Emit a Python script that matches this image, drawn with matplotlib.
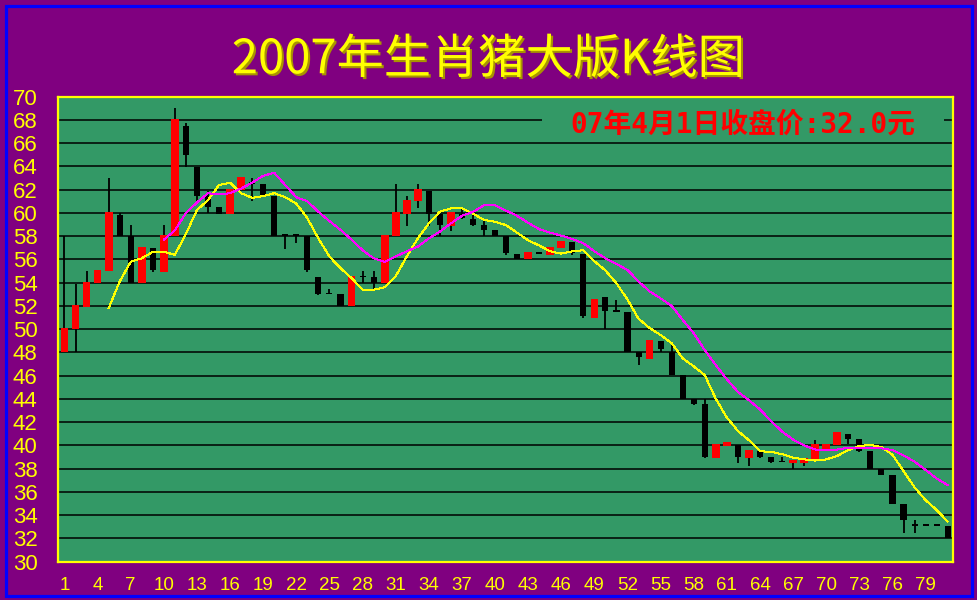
import matplotlib
matplotlib.use("Agg")
import matplotlib.pyplot as plt
import matplotlib.patheffects as pe
from matplotlib.patches import Rectangle
import numpy as np

# daily candles, day 1..81
day = np.arange(1, 82)
open_ = [48.0, 50.0, 51.95, 53.95, 55.0, 59.85, 58.0, 53.95, 56.95, 54.95,
         58.0, 67.5, 63.95, 61.5, 60.5, 59.95, 61.95, 62.55, 62.5, 61.5,
         58.05, 58.05, 58.0, 54.5, 53.05, 53.05, 52.0, 54.5, 54.5, 53.95,
         58.0, 59.95, 61.0, 61.9, 59.95, 58.9, 59.95, 59.5, 58.95, 58.55,
         58.0, 56.5, 56.0, 56.6, 56.4, 56.95, 57.5, 56.5, 51.0, 52.75,
         51.55, 51.5, 48.0, 47.45, 49.0, 48.0, 46.05, 44.0, 43.55, 38.9,
         39.95, 40.0, 38.9, 39.5, 39.0, 38.6, 38.5, 38.5, 38.8, 39.5,
         40.0, 41.0, 40.55, 39.5, 38.0, 37.5, 35.0, 33.15, 33.15, 33.15,
         33.05]
high = [58.0, 53.9, 55.0, 55.1, 63.0, 60.0, 59.0, 57.1, 56.95, 59.0,
        69.0, 67.75, 63.95, 61.85, 60.5, 62.05, 63.1, 63.0, 62.5, 61.5,
        58.05, 58.05, 58.0, 54.5, 53.5, 53.05, 54.6, 55.0, 55.0, 58.1,
        62.5, 61.45, 62.5, 61.9, 59.95, 60.05, 60.5, 59.95, 59.5, 58.55,
        58.0, 56.5, 56.6, 56.6, 57.05, 57.6, 57.5, 56.5, 52.6, 52.75,
        52.55, 51.5, 48.0, 49.1, 49.0, 48.8, 46.05, 44.0, 44.0, 40.1,
        40.3, 40.0, 39.6, 39.5, 39.0, 39.0, 38.75, 38.9, 40.5, 40.1,
        41.15, 41.0, 40.55, 39.5, 38.0, 37.5, 35.0, 33.6, 33.25, 33.25,
        33.05]
low = [48.0, 48.0, 51.95, 53.95, 55.0, 58.0, 53.95, 53.95, 54.95, 54.95,
       58.0, 63.95, 61.0, 60.0, 59.95, 59.95, 61.95, 61.0, 61.5, 58.0,
       56.9, 57.45, 54.95, 52.95, 53.0, 52.0, 52.0, 53.95, 53.25, 53.95,
       58.0, 58.9, 60.45, 58.9, 58.0, 58.45, 59.45, 58.9, 58.0, 58.0,
       56.4, 56.05, 56.0, 56.5, 56.4, 56.95, 56.4, 50.95, 51.0, 50.0,
       51.5, 48.0, 46.95, 47.45, 48.0, 46.05, 44.0, 43.45, 38.9, 38.9,
       39.95, 38.45, 38.25, 38.9, 38.5, 38.55, 38.0, 38.25, 38.8, 39.5,
       40.0, 40.1, 39.45, 38.0, 37.45, 34.95, 32.5, 32.5, 33.1, 33.1,
       32.0]
close = [50.1, 52.1, 54.1, 55.1, 60.05, 58.0, 53.95, 57.1, 55.05, 58.1,
         68.1, 65.0, 61.5, 60.55, 59.95, 62.05, 63.1, 62.5, 61.5, 58.0,
         58.0, 58.0, 55.05, 53.05, 53.0, 52.0, 54.6, 54.45, 53.95, 58.1,
         60.05, 61.1, 62.05, 59.9, 59.0, 60.05, 59.6, 59.0, 58.55, 58.0,
         56.55, 56.05, 56.6, 56.5, 57.05, 57.6, 56.55, 51.1, 52.6, 51.55,
         51.5, 48.0, 47.6, 49.1, 48.3, 46.05, 44.0, 43.6, 39.0, 40.1,
         40.3, 39.0, 39.6, 39.0, 38.6, 38.55, 38.75, 38.9, 40.1, 40.1,
         41.15, 40.55, 39.55, 38.0, 37.5, 35.0, 33.6, 33.1, 33.1, 33.1,
         32.0]

# moving average lines as drawn (yellow from day 5, magenta from day 10)
ma5 = [51.8, 54.1, 55.8, 56.1, 56.65, 56.65, 56.4, 58.2, 60.25, 61.1,
       62.4, 62.6, 61.7, 61.3, 61.45, 61.7, 61.35, 60.8, 59.55, 57.8,
       56.25, 55.25, 54.4, 53.4, 53.4, 53.6, 54.55, 56.25, 57.8, 59.1,
       60.1, 60.4, 60.4, 59.95, 59.4, 59.25, 58.95, 58.3, 57.65, 57.2,
       56.7, 56.5, 56.7, 56.8, 55.85, 55.05, 53.95, 52.55, 50.9, 50.1,
       49.5, 48.8, 47.5, 46.8, 46.05, 44.0, 42.4, 41.25, 40.45, 39.5,
       39.45, 39.25, 38.95, 38.8, 38.7, 38.8, 39.1, 39.6, 39.95, 40.05,
       39.85, 39.2, 37.8, 36.4, 35.3, 34.45, 33.45]
ma10 = [57.7, 58.5, 60.0, 60.9, 61.7, 61.6, 61.7, 62.1, 62.6, 63.2,
        63.45, 62.4, 61.35, 61.0, 60.1, 59.3, 58.55, 57.7, 56.8, 56.1,
        55.8, 56.25, 56.7, 57.1, 57.8, 58.4, 59.1, 59.75, 60.1, 60.65,
        60.65, 60.2, 59.75, 59.15, 58.6, 58.3, 58.05, 57.75, 57.4, 56.7,
        56.1, 55.6, 55.1, 54.1, 53.25, 52.65, 52.0, 50.8, 49.65, 48.2,
        46.9, 45.7, 44.6, 43.9, 43.1, 42.1, 41.2, 40.5, 40.0, 39.65,
        39.6, 39.65, 39.8, 39.8, 39.8, 39.75, 39.6, 39.15, 38.6, 37.9,
        37.15, 36.6]

y_ticks = list(range(30, 71, 2))
x_ticks = list(range(1, 80, 3))
title = "2007年生肖猪大版K线图"
note = "07年4月1日收盘价:32.0元"

PURPLE = "#800080"
GREEN = "#339966"

fig = plt.figure(figsize=(9.77, 6.0), dpi=100, facecolor=PURPLE)
fig.patches.append(Rectangle((5.5 / 977, 4.5 / 600), 966 / 977, 590 / 600,
                             transform=fig.transFigure, fill=False,
                             edgecolor="#0000FF", lw=2.3))

ax = fig.add_axes([58.3 / 977, 38.3 / 600, 895 / 977, 465 / 600])
ax.set_facecolor(GREEN)
ax.set_xlim(0.44, 81.51)
ax.set_ylim(30, 70)

for v in y_ticks[1:-1]:
    ax.axhline(v, color="black", lw=1.1, zorder=1)

o = np.array(open_)
c = np.array(close)
up = c > o
bottom = np.minimum(o, c)
height = np.maximum(np.abs(c - o), 0.15)

ax.vlines(day, low, high, color="black", lw=1.3, zorder=2)
ax.bar(day[up], height[up], bottom=bottom[up], width=0.7,
       color="#FF0000", lw=0, zorder=3)
ax.bar(day[~up], height[~up], bottom=bottom[~up], width=0.55,
       color="black", lw=0, zorder=3)

ax.plot(day[4:], ma5, color="#FFFF00", lw=0.72, zorder=4, antialiased=False)
ax.plot(day[9:], ma10, color="#FF00FF", lw=0.72, zorder=4, antialiased=False)

for s in ax.spines.values():
    s.set_color("#FFFF00")
    s.set_linewidth(1.6)

ax.set_yticks(y_ticks)
ax.set_yticklabels([str(v) for v in y_ticks], color="#FFFF00", fontsize=16,
                   family=["Liberation Sans", "DejaVu Sans"])
ax.set_xticks(x_ticks)
ax.set_xticklabels([str(v) for v in x_ticks], color="#FFFF00", fontsize=13.5,
                   family=["Liberation Sans", "DejaVu Sans"])
ax.tick_params(axis="y", length=0, pad=15)
ax.tick_params(axis="x", length=0, pad=11)

# box behind the price note hides the top gridline
ax.add_patch(Rectangle((0.54, 0.925), 0.45, 0.04, transform=ax.transAxes,
                       facecolor=GREEN, edgecolor="none", zorder=1.5))
ax.text(0.765, 0.941, note, transform=ax.transAxes, ha="center", va="center",
        color="#FF0000", fontsize=20, fontweight="bold",
        family=["DejaVu Sans Mono", "Noto Sans CJK SC"], zorder=5)

fig.text(0.5, 0.9, title, ha="center", va="center", color="#FFFF00",
         fontsize=34, family=["Noto Sans CJK SC", "DejaVu Sans"],
         path_effects=[pe.SimplePatchShadow(offset=(1.5, -1.5),
                                            shadow_rgbFace="#A89400", alpha=1.0),
                       pe.Normal()])

fig.savefig("out.png", dpi=100, facecolor=PURPLE)
